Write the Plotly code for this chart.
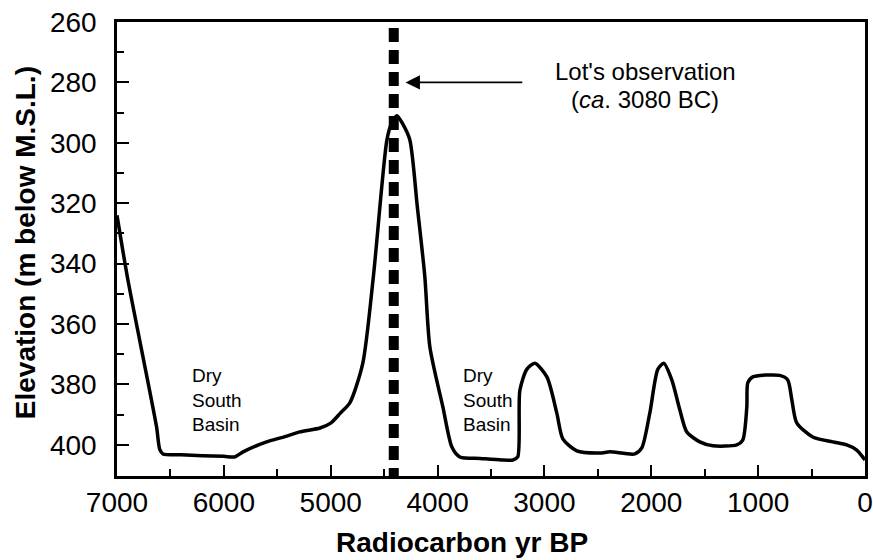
import plotly.graph_objects as go

# Lake-level curve (radiocarbon yr BP vs elevation, m below M.S.L.)
years = [7000, 6900, 6630, 6600, 6570, 6400, 6200, 6000, 5900, 5820, 5600, 5450,
         5290, 5100, 5000, 4910, 4820, 4700, 4600, 4474, 4430, 4380, 4330, 4260,
         4190, 4120, 4072, 3950, 3866, 3791, 3600, 3400, 3296, 3250, 3230, 3165,
         3090, 2977, 2884, 2828, 2697, 2481, 2388, 2154, 2089, 2014, 1939, 1883,
         1808, 1733, 1668, 1546, 1424, 1200, 1144, 1106, 1097, 1050, 798, 723,
         685, 639, 489, 302, 171, 77, 0]
elevation = [324, 345, 394, 401.5, 403, 403.3, 403.6, 403.8, 404, 402.3, 399, 397.5,
             395.7, 394.4, 392.8, 389.5, 386, 373, 344, 299, 293.5, 291, 293.5, 299,
             321, 344, 367.6, 387.5, 400.7, 404, 404.5, 405, 405, 404, 382, 375,
             373, 377.5, 389.5, 398, 402, 402.7, 402.3, 403, 401, 389.5, 375, 373,
             378.5, 388.4, 395.7, 399, 400.3, 400, 398.4, 387.5, 379.5, 377.5, 377, 378.5,
             385, 392.7, 397.4, 399, 400, 401.7, 405]

obs_year = [4410, 4410]
obs_elev = [262, 410.3]

y_ticks = [260, 280, 300, 320, 340, 360, 380, 400]
x_ticks = [7000, 6000, 5000, 4000, 3000, 2000, 1000, 0]

FONT = "Liberation Sans, Arial, sans-serif"

fig = go.Figure()
fig.add_trace(go.Scatter(x=obs_year, y=obs_elev, mode="lines",
                         line=dict(color="black", width=10, dash="14px,8px"),
                         hoverinfo="skip", showlegend=False))
fig.add_trace(go.Scatter(x=years, y=elevation, mode="lines",
                         line=dict(color="black", width=3.5, shape="spline", smoothing=0.7),
                         showlegend=False))

fig.add_annotation(x=4300, y=280, ax=3193, ay=280, xref="x", yref="y", axref="x", ayref="y",
                   showarrow=True, arrowhead=2, arrowsize=1.6, arrowwidth=1.8,
                   arrowcolor="black", text="")
fig.add_annotation(x=2055, y=276.5, xref="x", yref="y", text="Lot's observation",
                   showarrow=False, font=dict(family=FONT, size=24, color="black"))
fig.add_annotation(x=2055, y=285.5, xref="x", yref="y", text="(<i>ca</i>. 3080 BC)",
                   showarrow=False, font=dict(family=FONT, size=24, color="black"))
for xs in [6320, 3780]:
    fig.add_annotation(x=xs, y=385, xref="x", yref="y", text="Dry<br>South<br>Basin",
                       showarrow=False, xanchor="left", align="left",
                       font=dict(family=FONT, size=19, color="black"))

fig.add_annotation(x=3773, y=-0.147, xref="x", yref="paper", text="<b>Radiocarbon yr BP</b>",
                   showarrow=False, xanchor="center", yanchor="middle",
                   font=dict(family=FONT, size=28, color="black"))
fig.add_annotation(x=-0.123, y=0.515, xref="paper", yref="paper",
                   text="<b>Elevation (m below M.S.L.)</b>", textangle=-90,
                   showarrow=False, xanchor="center", yanchor="middle",
                   font=dict(family=FONT, size=28, color="black"))

fig.update_xaxes(range=[7000, 0], tickvals=x_ticks, ticks="inside", ticklen=11, tickwidth=1.5,
                 tickcolor="black", showline=True, linecolor="black", linewidth=2.5, mirror=True,
                 showgrid=False, zeroline=False, ticklabelstandoff=0, automargin=False,
                 minor=dict(dtick=500, ticks="inside", ticklen=7, tickwidth=1.5, tickcolor="black",
                            showgrid=False),
                 tickfont=dict(family=FONT, size=28, color="black"))
fig.update_yaxes(range=[410.3, 260], tickvals=y_ticks, ticks="inside", ticklen=12, tickwidth=1.5,
                 tickcolor="black", showline=True, linecolor="black", linewidth=2.5, mirror=True,
                 showgrid=False, zeroline=False, ticklabelstandoff=12, automargin=False,
                 minor=dict(dtick=10, ticks="inside", ticklen=7, tickwidth=1.5, tickcolor="black",
                            showgrid=False),
                 tickfont=dict(family=FONT, size=28, color="black"))

fig.update_layout(width=873, height=560, margin=dict(l=117, r=8, t=22, b=84),
                  plot_bgcolor="white", paper_bgcolor="white", showlegend=False)

fig.write_html("out.html", config={"displayModeBar": False},
               post_script="document.body.style.margin='0';document.body.style.overflow='hidden';")
